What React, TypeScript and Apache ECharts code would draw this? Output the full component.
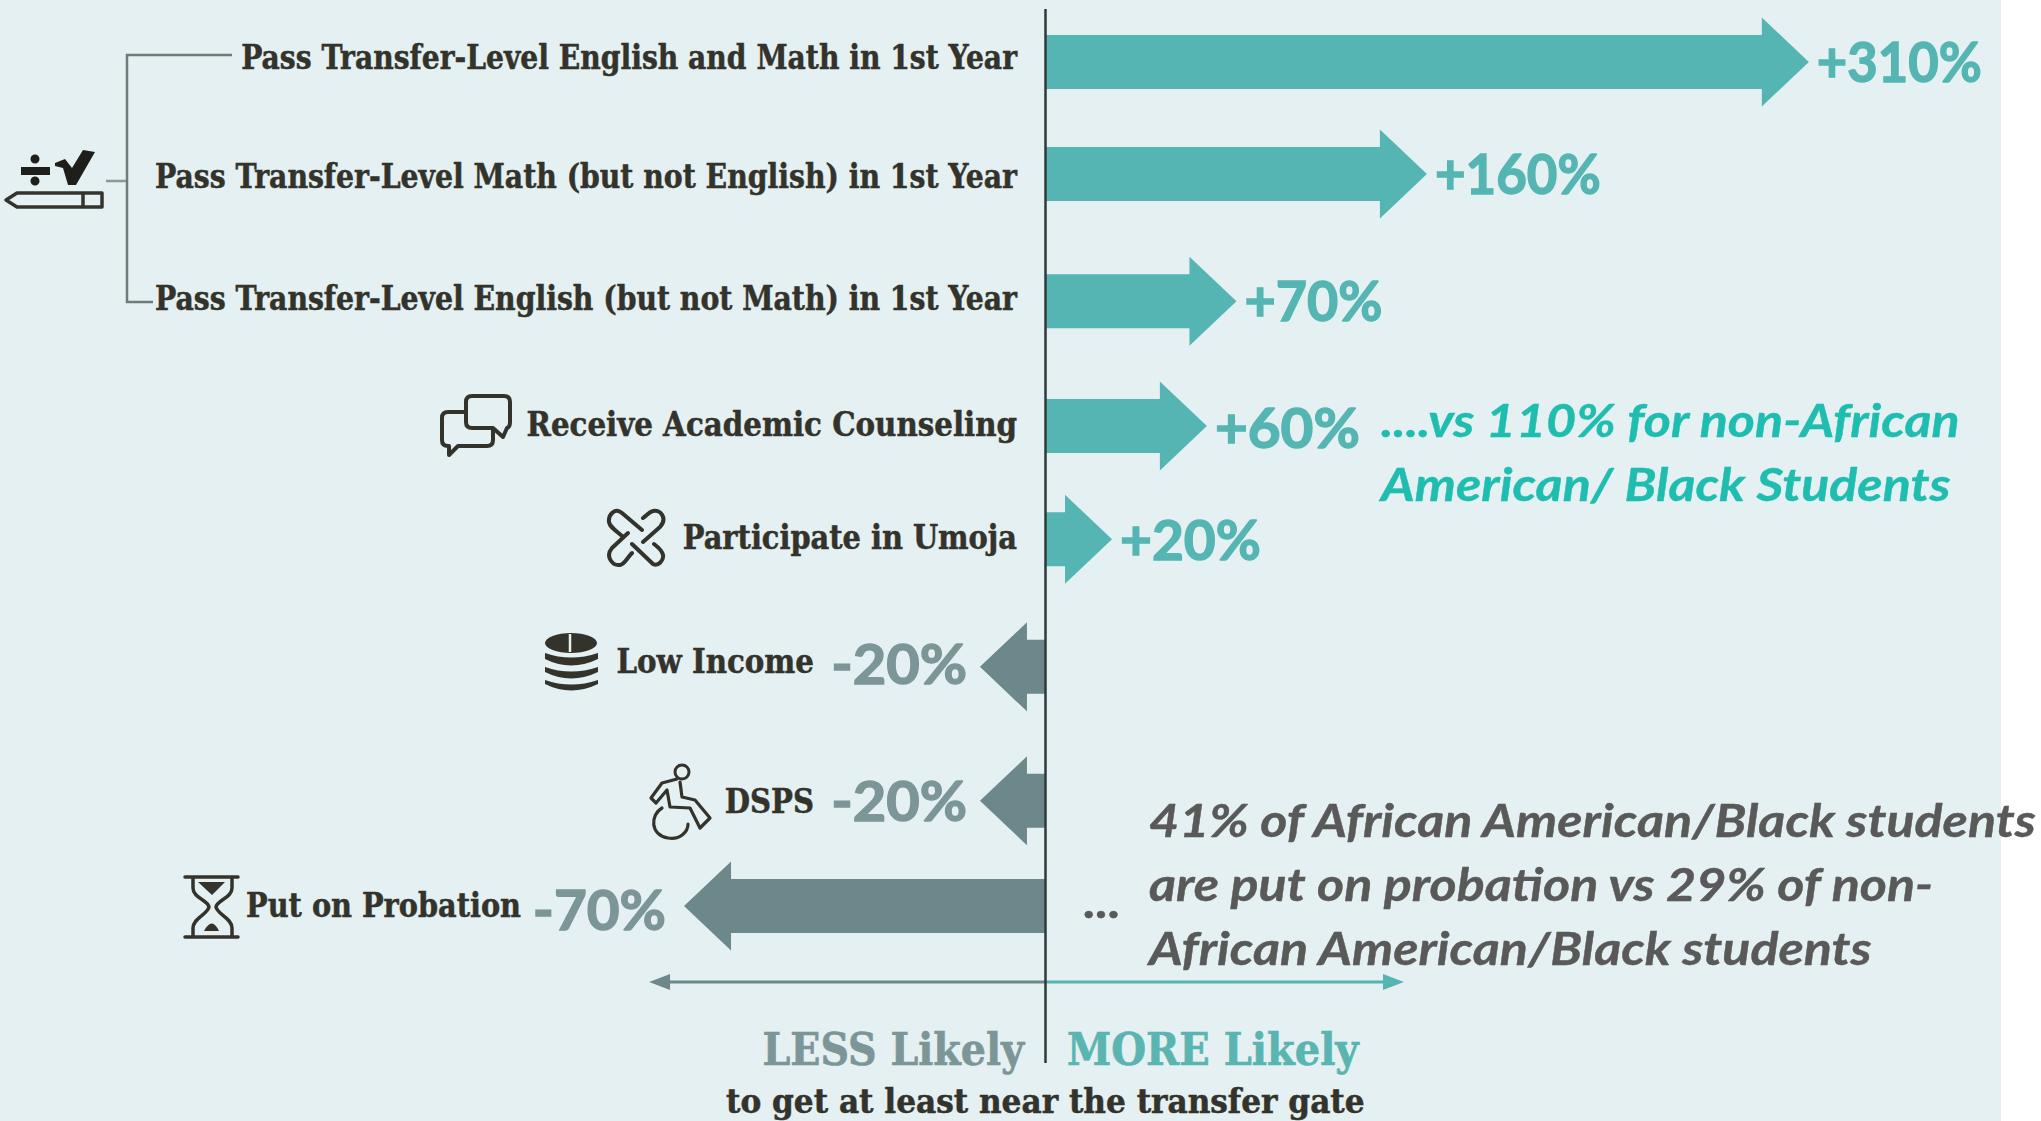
import React, { useEffect, useRef } from "react";
import * as echarts from "echarts";

const categories = [
  "Pass Transfer-Level English and Math in 1st Year",
  "Pass Transfer-Level Math (but not English) in 1st Year",
  "Pass Transfer-Level English (but not Math) in 1st Year",
  "Receive Academic Counseling",
  "Participate in Umoja",
  "Low Income",
  "DSPS",
  "Put on Probation",
];
// The printed values.
const values = [310, 160, 70, 60, 20, -20, -20, -70];
// The arrows in the source are not to scale with their printed values:
// this is each arrow's length, in units of the x axis.
const arrowReach = [310, 155, 77.7, 65.7, 27.2, -26.4, -26.4, -146.5];

const noteTeal = ["....vs 110% for non-African", "American/ Black Students"];
const noteGray = [
  "41% of African American/Black students",
  "are put on probation vs 29% of non-",
  "African American/Black students",
];
const axisLess = "LESS Likely";
const axisMore = "MORE Likely";
const axisCaption = "to get at least near the transfer gate";

// ---- layout and style only ----
const BG = "#e4f0f1";
const TEAL = "#55b5b2";
const GRAY = "#6d888a";
const INK = "#33332c";
const LABEL_FONT = "bold 33px 'DejaVu Serif Condensed'";
const PCT_FONT = "bold 55px Lato";
const NOTE_FONT = "italic bold 46px Lato";
const NOTE_SCALE = 1.13;
const rowNudge = [0, -8.6, -2, 2.3, -5, 2, 15.4, 0];
const labelDy = [-4, 3, -2, -2, -1.5, -5, 1, -1];
const pctDy = [-1, -1, -1, 1, 0, -4, -1, 3];
const labelScale = [0.95, 0.953, 0.953, 0.988, 0.972, 0.987, 0.98, 0.969];
const pctScale = [0.955, 0.96, 0.98, 1.03, 1, 1.05, 1.05, 1.03];

const ICONS: Record<string, string> = {
  iconRoot:
    "M55 163 L65 159 L72 168 L83 150 L95 152 L76 185 L68 185 L63 168 L55 166 Z M21 167 H50 V175 H21 Z M30.5 159 A4.5 4.5 0 1 0 39.5 159 A4.5 4.5 0 1 0 30.5 159 Z M30.5 181 A4.5 4.5 0 1 0 39.5 181 A4.5 4.5 0 1 0 30.5 181 Z",
  iconPencil: "M6 200 L17 193 H102 V207 H17 Z M83 193 V207",
  iconChat:
    "M465 412 H448 Q442 412 442 418 V440 Q442 446 448 446 H449 V455 L458 446 H487 Q493 446 493 440 V430 M472 396 H504 Q510 396 510 402 V422 Q510 427 507 428 L503 437 L493 428 H472 Q466 428 466 422 V402 Q466 396 472 396 Z",
  iconLink:
    "M642 530 L622 513 C615 507 608 515 609 522 C610 527 614 529 622 536 M628 533 L612 548 C605 556 612 566 620 565 C624 565 627 558 632 553 M632 544 L653 564 C658 567 664 560 663 555 C662 550 658 547 654 544 M643 542 L660 527 C668 518 660 509 653 511 C649 512 647 515 643 518",
  iconCoinTop:
    "M545 643 A26 10 0 1 0 597 643 A26 10 0 1 0 545 643 Z M545 653 Q571 662 598 653 V659 Q571 672 545 659 Z M545 667 Q571 676 598 667 V672 Q571 685 545 672 Z M545 680 Q571 689 598 680 V684 Q571 697 545 684 Z",
  iconHead: "M675 772 A7 7 0 1 0 689 772 A7 7 0 1 0 675 772 Z",
  iconBody:
    "M677 779 L662 783 L651 798 L656 803 L667 790 L670 807 L690 808 L700 828 L710 818 L695 800 L682 797 L680 782 M662 808 C650 815 650 835 668 838 C680 840 688 832 688 824",
  iconGlass:
    "M185 877 H238 M185 937 H238 M193 878 V888 C193 898 208 900 209 907 C208 914 193 918 193 928 V937 M232 878 V888 C232 898 217 900 216 907 C217 914 232 918 232 928 V937",
  iconSand: "M198 882 H225 L212 895 Z M204 931 Q212 916 219 931 Z",
};
Object.entries(ICONS).forEach(([name, d]) => {
  echarts.graphic.registerShape(name, (echarts.graphic as any).extendPath(d, {}));
});

const txt = (
  text: string,
  x: number,
  y: number,
  font: string,
  fill: string,
  align = "left",
  scaleX = 1,
  weight = 0
) => ({
  type: "text",
  x,
  y,
  scaleX,
  silent: true,
  style: {
    text,
    x: 0,
    y: 0,
    font,
    fill,
    align,
    verticalAlign: "middle",
    textAlign: align,
    textVerticalAlign: "middle",
    ...(weight ? { stroke: fill, lineWidth: weight } : {}),
  },
});

const arrowItem = (params: any, api: any) => {
  const reach = api.value(0);
  const row = api.value(1);
  const printed = values[row];
  const tip = api.coord([reach, row]);
  const zero = api.coord([0, row]);
  const cy = tip[1] + rowNudge[row];
  const dir = reach >= 0 ? 1 : -1;
  const back = tip[0] - dir * 47;
  const points = [
    [zero[0], cy - 27],
    [back, cy - 27],
    [back, cy - 44.5],
    [tip[0], cy],
    [back, cy + 44.5],
    [back, cy + 27],
    [zero[0], cy + 27],
  ];
  const pctText = `${printed > 0 ? "+" : "-"}${Math.abs(printed)}%`;
  const pctX = dir > 0 ? tip[0] + 8 : tip[0] - (row === 7 ? 18 : 13);
  const labelX = dir > 0 ? zero[0] - 28 : pctX - (row === 7 ? 145 : 153);
  return {
    type: "group",
    children: [
      { type: "polygon", shape: { points }, style: { fill: dir > 0 ? TEAL : GRAY } },
      txt(pctText, pctX, cy + pctDy[row], PCT_FONT, dir > 0 ? TEAL : "#7c9698", dir > 0 ? "left" : "right", pctScale[row], 1.4),
      txt(categories[row], labelX, cy + labelDy[row], LABEL_FONT, INK, "right", labelScale[row], 0.5),
    ],
  };
};

const zeroLineItem = (params: any, api: any) => {
  const x = api.coord([0, 0])[0];
  const left = api.coord([-160.7, 0])[0];
  const right = api.coord([145.7, 0])[0];
  const y = 982;
  return {
    type: "group",
    children: [
      { type: "line", shape: { x1: left + 10, y1: y, x2: x, y2: y }, style: { stroke: GRAY, lineWidth: 3 } },
      { type: "line", shape: { x1: x, y1: y, x2: right - 10, y2: y }, style: { stroke: TEAL, lineWidth: 3 } },
      { type: "polygon", shape: { points: [[left, y], [left + 21, y - 8], [left + 21, y + 8]] }, style: { fill: GRAY } },
      { type: "polygon", shape: { points: [[right, y], [right - 21, y - 8], [right - 21, y + 8]] }, style: { fill: TEAL } },
      { type: "line", shape: { x1: x + 0.5, y1: 9, x2: x + 0.5, y2: 1063 }, style: { stroke: "#2f3a38", lineWidth: 2.5 } },
    ],
  };
};

const shape = (type: string, style: any) => ({ type, x: 0, y: 0, silent: true, style });
const stroke = (w: number, color = INK) => ({ fill: "none", stroke: color, lineWidth: w, lineJoin: "round", lineCap: "round" });

export default function App() {
  const ref = useRef<HTMLDivElement>(null);
  useEffect(() => {
    document.body.style.margin = "0";
    document.body.style.overflow = "hidden";
    const chart = echarts.init(ref.current!, undefined, { renderer: "svg" });
    chart.setOption({
      animation: false,
      backgroundColor: "#ffffff",
      grid: { left: 59.4, width: 1971.2, top: 1.7, height: 964.6 },
      xAxis: { type: "value", min: -400, max: 400, show: false },
      yAxis: { type: "category", inverse: true, data: categories, show: false },
      graphic: {
        elements: [
          { type: "rect", z: -1, silent: true, shape: { x: 0, y: 0, width: 2001, height: 1121 }, style: { fill: BG } },
          { type: "polyline", silent: true, shape: { points: [[232, 55], [127, 55], [127, 302], [153, 302]] }, style: { fill: "none", stroke: "#6f7b7b", lineWidth: 2.5 } },
          { type: "line", silent: true, shape: { x1: 106, y1: 181, x2: 126, y2: 181 }, style: { stroke: "#8a9797", lineWidth: 2.5 } },
          shape("iconRoot", { fill: "#1e1e1a" }),
          shape("iconPencil", stroke(3.5)),
          shape("iconChat", stroke(4)),
          shape("iconLink", stroke(4)),
          shape("iconCoinTop", { fill: INK }),
          { type: "line", silent: true, shape: { x1: 570, y1: 634, x2: 570, y2: 652 }, style: { stroke: "#e4f0f1", lineWidth: 2.5 } },
          shape("iconHead", stroke(3)),
          shape("iconBody", stroke(3.2)),
          shape("iconGlass", stroke(3.5)),
          shape("iconSand", { fill: INK }),
          txt(noteTeal[0], 1381, 419, NOTE_FONT, "#1fbdb0", "left", NOTE_SCALE, 0.4),
          txt(noteTeal[1], 1381, 483, NOTE_FONT, "#1fbdb0", "left", NOTE_SCALE, 0.4),
          txt("...", 1084, 900, NOTE_FONT, "#595959", "left", NOTE_SCALE, 0.4),
          txt(noteGray[0], 1149, 819, NOTE_FONT, "#595959", "left", NOTE_SCALE, 0.4),
          txt(noteGray[1], 1149, 883, NOTE_FONT, "#595959", "left", NOTE_SCALE, 0.4),
          txt(noteGray[2], 1149, 947, NOTE_FONT, "#595959", "left", NOTE_SCALE, 0.4),
          txt(axisLess, 1024, 1049, "bold 44px 'DejaVu Serif Condensed'", "#7c9698", "right", 1, 0.6),
          txt(axisMore, 1067, 1049, "bold 44px 'DejaVu Serif Condensed'", "#5ab5b1", "left", 1.01, 0.6),
          txt(axisCaption, 726, 1101, LABEL_FONT, INK, "left", 1.05, 0.5),
        ],
      },
      series: [
        {
          type: "custom",
          coordinateSystem: "cartesian2d",
          renderItem: arrowItem,
          encode: { x: 0, y: 1 },
          data: categories.map((_, i) => [arrowReach[i], i]),
          silent: true,
          z: 3,
        },
        {
          type: "custom",
          coordinateSystem: "cartesian2d",
          renderItem: zeroLineItem,
          encode: { x: 0, y: 1 },
          data: [[0, 0]],
          silent: true,
          z: 4,
        },
      ],
    });
    return () => chart.dispose();
  }, []);
  return <div ref={ref} style={{ width: 2041, height: 1121 }} />;
}
